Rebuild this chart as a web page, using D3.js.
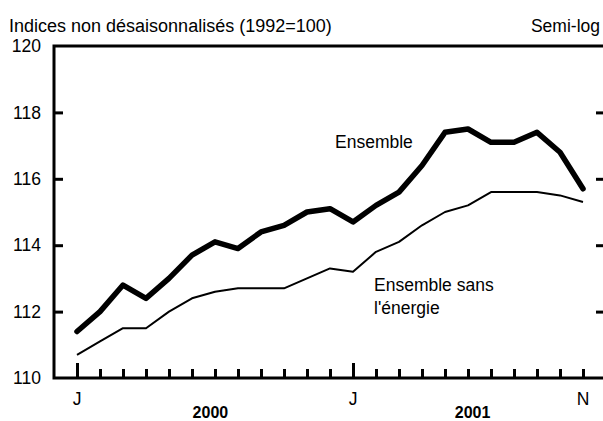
<!DOCTYPE html>
<html>
<head>
<meta charset="utf-8">
<script src="https://cdn.jsdelivr.net/npm/d3@7"></script>
<style>
  body { margin: 0; background: #fff; }
  svg { display: block; font-family: "Liberation Sans", Arial, sans-serif; }
</style>
</head>
<body>
<svg id="chart" width="603" height="421"></svg>
<script>
// Monthly index, Jan 2000 .. Nov 2001 (month 0 = Jan 2000)
months = d3.range(0, 23);
ensemble = [111.4, 112.0, 112.8, 112.4, 113.0, 113.7, 114.1, 113.9, 114.4, 114.6, 115.0, 115.1,
            114.7, 115.2, 115.6, 116.4, 117.4, 117.5, 117.1, 117.1, 117.4, 116.8, 115.7];
sansEnergie = [110.7, 111.1, 111.5, 111.5, 112.0, 112.4, 112.6, 112.7, 112.7, 112.7, 113.0, 113.3,
               113.2, 113.8, 114.1, 114.6, 115.0, 115.2, 115.6, 115.6, 115.6, 115.5, 115.3];
yTicks = [110, 112, 114, 116, 118, 120];
monthLabels = {0: "J", 12: "J", 22: "N"};
years = [{label: "2000", at: 5.8}, {label: "2001", at: 17.2}];

svg = d3.select("#chart");

x = d3.scaleLinear().domain([-1, 23]).range([54, 606]);
y = d3.scaleLinear().domain([110, 120]).range([378, 46]);

// frame: left, top, bottom
svg.append("path")
    .attr("d", `M${x(23)},${y(120)}H${x(-1)}V${y(110)}H${x(23)}`)
    .attr("fill", "none")
    .attr("stroke", "#000")
    .attr("stroke-width", 3);

// y ticks (inside, left and right)
yAxisL = d3.axisLeft(y).tickValues(yTicks).tickSize(-9).tickPadding(14);
gl = svg.append("g").attr("transform", `translate(${x(-1)},0)`).call(yAxisL);
gl.select(".domain").remove();
gl.selectAll(".tick line").attr("stroke-width", 3);
gl.selectAll(".tick text")
    .attr("x", -13)
    .attr("font-size", 17.5)
    .attr("font-family", "Liberation Sans, Arial, sans-serif")
    .attr("fill", "#000");
gl.selectAll(".tick").filter(d => d == 110 || d == 120).select("line").remove();

gr = svg.append("g").attr("transform", `translate(${x(23)},0)`)
    .call(d3.axisRight(y).tickValues(yTicks.filter(d => d > 110 && d < 120)).tickSize(-10).tickFormat(""));
gr.select(".domain").remove();
gr.selectAll(".tick line").attr("stroke-width", 3);

// x ticks (inside, pointing up)
gx = svg.append("g").attr("transform", `translate(0,${y(110)})`)
    .call(d3.axisBottom(x).tickValues(months).tickSize(0).tickFormat(""));
gx.select(".domain").remove();
gx.selectAll(".tick line")
    .attr("y2", d => (d % 12 == 0) ? -15 : -9)
    .attr("stroke-width", 3);

svg.selectAll(".month-label")
    .data(Object.keys(monthLabels).map(Number))
    .join("text")
    .attr("class", "month-label")
    .attr("x", d => x(d))
    .attr("y", 405)
    .attr("text-anchor", "middle")
    .attr("font-size", 17.5)
    .text(d => monthLabels[d]);

svg.selectAll(".year-label")
    .data(years)
    .join("text")
    .attr("class", "year-label")
    .attr("x", d => x(d.at))
    .attr("y", 418)
    .attr("text-anchor", "middle")
    .attr("font-size", 16)
    .attr("font-weight", "bold")
    .text(d => d.label);

// series
line = d3.line().x((d, i) => x(months[i])).y(d => y(d));

svg.append("path")
    .datum(sansEnergie)
    .attr("d", line)
    .attr("fill", "none")
    .attr("stroke", "#000")
    .attr("stroke-width", 2)
    .attr("stroke-linejoin", "round");

svg.append("path")
    .datum(ensemble)
    .attr("d", line)
    .attr("fill", "none")
    .attr("stroke", "#000")
    .attr("stroke-width", 5.5)
    .attr("stroke-linejoin", "round")
    .attr("stroke-linecap", "round");

// titles and labels
svg.append("text").attr("x", 9).attr("y", 32).attr("font-size", 18)
    .text("Indices non désaisonnalisés (1992=100)");
svg.append("text").attr("x", 600).attr("y", 32).attr("font-size", 17.5).attr("text-anchor", "end")
    .text("Semi-log");

svg.append("text").attr("x", 335).attr("y", 148).attr("font-size", 17.5).text("Ensemble");
lbl = svg.append("text").attr("x", 374).attr("y", 291).attr("font-size", 17.5);
lbl.append("tspan").attr("x", 374).text("Ensemble sans");
lbl.append("tspan").attr("x", 374).attr("dy", 23).text("l'énergie");
</script>
</body>
</html>
